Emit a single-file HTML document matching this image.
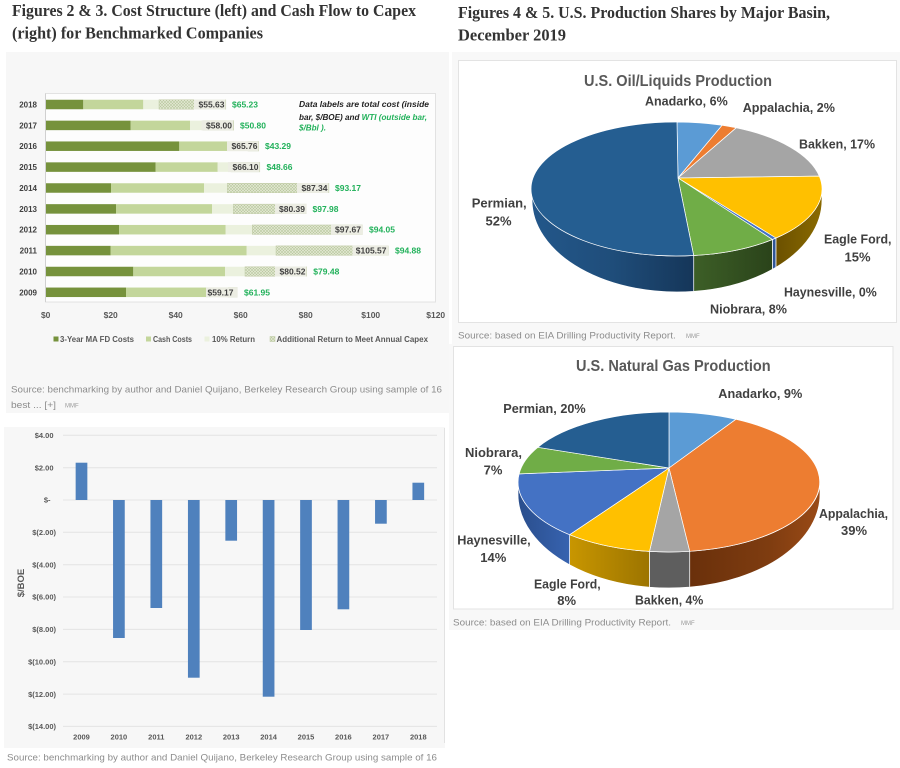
<!DOCTYPE html>
<html><head><meta charset="utf-8"><style>
html,body{margin:0;padding:0;background:#fff;width:900px;height:768px;overflow:hidden}
svg{display:block}
text{font-family:"Liberation Sans",sans-serif}
.ttl{font-family:"Liberation Serif",serif;font-weight:bold;font-size:17px;fill:#333}
.yl{font-size:8px;font-weight:bold;fill:#404040}
.xl{font-size:8.5px;font-weight:bold;fill:#595959}
.tot{font-size:8.5px;font-weight:bold;fill:#404040}
.wti{font-size:8.5px;font-weight:bold;fill:#21b15a}
.lg{font-size:8px;font-weight:bold;fill:#595959}
.src{font-size:9.5px;fill:#8c8c8c}
.mmf{font-size:6px;fill:#999}
.pl{font-size:13px;font-weight:bold;fill:#404040}
.pt{font-size:16px;font-weight:bold;fill:#595959}
.bl{font-size:7.5px;font-weight:bold;fill:#595959}
</style></head><body>
<svg width="900" height="768" viewBox="0 0 900 768" xmlns="http://www.w3.org/2000/svg">
<defs>
<pattern id="hatch" width="3" height="3" patternUnits="userSpaceOnUse">
<rect width="3" height="3" fill="#e4ead5"/>
<path d="M0,0 L3,3 M3,0 L0,3" stroke="#b9c79e" stroke-width="0.6"/>
</pattern>
<linearGradient id="gPerm" x1="0" x2="1" y1="0" y2="0"><stop offset="0" stop-color="#23578a"/><stop offset="0.5" stop-color="#1f4d7a"/><stop offset="1" stop-color="#153659"/></linearGradient>
<linearGradient id="gNio" x1="0" x2="1"><stop offset="0" stop-color="#3d5f27"/><stop offset="1" stop-color="#2a431a"/></linearGradient>
<linearGradient id="gEf" x1="0" x2="1"><stop offset="0" stop-color="#6b5000"/><stop offset="1" stop-color="#8a6a00"/></linearGradient>
<linearGradient id="gApp" x1="0" x2="1"><stop offset="0" stop-color="#6a300b"/><stop offset="0.6" stop-color="#7e3c10"/><stop offset="1" stop-color="#9a4a16"/></linearGradient>
<linearGradient id="gEf2" x1="0" x2="1"><stop offset="0" stop-color="#c89600"/><stop offset="1" stop-color="#9c7400"/></linearGradient>
<linearGradient id="gHay2" x1="0" x2="1"><stop offset="0" stop-color="#2a4e8c"/><stop offset="1" stop-color="#3763b0"/></linearGradient>
</defs>

<!-- LEFT TOP -->
<text class="ttl" x="12" y="16" textLength="404" lengthAdjust="spacingAndGlyphs">Figures 2 &amp; 3. Cost Structure (left) and Cash Flow to Capex</text>
<text class="ttl" x="12" y="38.5" textLength="251" lengthAdjust="spacingAndGlyphs">(right) for Benchmarked Companies</text>

<rect x="6" y="52" width="443" height="361" fill="#f7f7f7"/>
<rect x="45.5" y="93.5" width="390" height="208.5" fill="#fdfdfd" stroke="#e2e2e2" stroke-width="1"/>
<line x1="45.5" y1="93.5" x2="45.5" y2="302" stroke="#d0d0d0"/>

<g class="yl" text-anchor="end">
<text x="37" y="107.5">2018</text>
<text x="37" y="128.4">2017</text>
<text x="37" y="149.2">2016</text>
<text x="37" y="170.1">2015</text>
<text x="37" y="191">2014</text>
<text x="37" y="211.9">2013</text>
<text x="37" y="232.7">2012</text>
<text x="37" y="253.6">2011</text>
<text x="37" y="274.5">2010</text>
<text x="37" y="295.3">2009</text>
</g>

<g>
<rect x="46" y="99.75" width="37.3" height="9.5" fill="#76923c"/>
<rect x="83.3" y="99.75" width="60" height="9.5" fill="#c3d69b"/>
<rect x="143.3" y="99.75" width="15.7" height="9.5" fill="#ebf1de"/>
<rect x="159" y="99.75" width="66.8" height="9.5" fill="url(#hatch)" stroke="#c2cca8" stroke-width="0.5"/>
<rect x="46" y="120.65" width="84.7" height="9.5" fill="#76923c"/>
<rect x="130.7" y="120.65" width="59.3" height="9.5" fill="#c3d69b"/>
<rect x="190" y="120.65" width="13" height="9.5" fill="#ebf1de"/>
<rect x="203" y="120.65" width="30.5" height="9.5" fill="url(#hatch)" stroke="#c2cca8" stroke-width="0.5"/>
<rect x="46" y="141.45" width="133.3" height="9.5" fill="#76923c"/>
<rect x="179.3" y="141.45" width="53.7" height="9.5" fill="#c3d69b"/>
<rect x="233" y="141.45" width="15" height="9.5" fill="#ebf1de"/>
<rect x="248" y="141.45" width="10.7" height="9.5" fill="url(#hatch)" stroke="#c2cca8" stroke-width="0.5"/>
<rect x="46" y="162.35" width="109.7" height="9.5" fill="#76923c"/>
<rect x="155.7" y="162.35" width="62" height="9.5" fill="#c3d69b"/>
<rect x="217.7" y="162.35" width="13.3" height="9.5" fill="#ebf1de"/>
<rect x="231" y="162.35" width="28.8" height="9.5" fill="url(#hatch)" stroke="#c2cca8" stroke-width="0.5"/>
<rect x="46" y="183.25" width="65" height="9.5" fill="#76923c"/>
<rect x="111" y="183.25" width="93" height="9.5" fill="#c3d69b"/>
<rect x="204" y="183.25" width="23.3" height="9.5" fill="#ebf1de"/>
<rect x="227.3" y="183.25" width="101.6" height="9.5" fill="url(#hatch)" stroke="#c2cca8" stroke-width="0.5"/>
<rect x="46" y="204.15" width="70" height="9.5" fill="#76923c"/>
<rect x="116" y="204.15" width="96" height="9.5" fill="#c3d69b"/>
<rect x="212" y="204.15" width="21.3" height="9.5" fill="#ebf1de"/>
<rect x="233.3" y="204.15" width="73" height="9.5" fill="url(#hatch)" stroke="#c2cca8" stroke-width="0.5"/>
<rect x="46" y="224.95" width="73" height="9.5" fill="#76923c"/>
<rect x="119" y="224.95" width="106.7" height="9.5" fill="#c3d69b"/>
<rect x="225.7" y="224.95" width="26.6" height="9.5" fill="#ebf1de"/>
<rect x="252.3" y="224.95" width="110.1" height="9.5" fill="url(#hatch)" stroke="#c2cca8" stroke-width="0.5"/>
<rect x="46" y="245.85" width="64.7" height="9.5" fill="#76923c"/>
<rect x="110.7" y="245.85" width="136" height="9.5" fill="#c3d69b"/>
<rect x="246.7" y="245.85" width="29.3" height="9.5" fill="#ebf1de"/>
<rect x="276" y="245.85" width="112.1" height="9.5" fill="url(#hatch)" stroke="#c2cca8" stroke-width="0.5"/>
<rect x="46" y="266.75" width="87.3" height="9.5" fill="#76923c"/>
<rect x="133.3" y="266.75" width="91.7" height="9.5" fill="#c3d69b"/>
<rect x="225" y="266.75" width="20" height="9.5" fill="#ebf1de"/>
<rect x="245" y="266.75" width="61.7" height="9.5" fill="url(#hatch)" stroke="#c2cca8" stroke-width="0.5"/>
<rect x="46" y="287.55" width="80" height="9.5" fill="#76923c"/>
<rect x="126" y="287.55" width="88.3" height="9.5" fill="#c3d69b"/>
<rect x="214.3" y="287.55" width="14" height="9.5" fill="#ebf1de"/>
<rect x="228.3" y="287.55" width="9" height="9.5" fill="url(#hatch)" stroke="#c2cca8" stroke-width="0.5"/>
</g>

<g fill="#ecede3">
<rect x="194" y="99.5" width="31.5" height="10"/>
<rect x="201.5" y="120.4" width="31.5" height="10"/>
<rect x="227" y="141.2" width="31.5" height="10"/>
<rect x="228" y="162.1" width="31.5" height="10"/>
<rect x="297" y="183" width="31.5" height="10"/>
<rect x="275" y="203.9" width="31.5" height="10"/>
<rect x="331" y="224.7" width="31.5" height="10"/>
<rect x="352.5" y="245.6" width="35.5" height="10"/>
<rect x="275" y="266.5" width="31.5" height="10"/>
<rect x="206" y="287.3" width="31.5" height="10"/>
</g>
<g class="tot" text-anchor="end">
<text x="224.5" y="107.5">$55.63</text>
<text x="232" y="128.4">$58.00</text>
<text x="257.5" y="149.2">$65.76</text>
<text x="258.5" y="170.1">$66.10</text>
<text x="327.5" y="191">$87.34</text>
<text x="305" y="211.9">$80.39</text>
<text x="361" y="232.7">$97.67</text>
<text x="386.5" y="253.6">$105.57</text>
<text x="305.5" y="274.5">$80.52</text>
<text x="233.5" y="295.3">$59.17</text>
</g>
<g class="wti">
<text x="232" y="107.5">$65.23</text>
<text x="240" y="128.4">$50.80</text>
<text x="265" y="149.2">$43.29</text>
<text x="266.5" y="170.1">$48.66</text>
<text x="335" y="191">$93.17</text>
<text x="312.5" y="211.9">$97.98</text>
<text x="369" y="232.7">$94.05</text>
<text x="395" y="253.6">$94.88</text>
<text x="313.3" y="274.5">$79.48</text>
<text x="244" y="295.3">$61.95</text>
</g>

<g font-size="8" font-style="italic" font-weight="bold" fill="#222">
<text x="299" y="107" textLength="130" lengthAdjust="spacingAndGlyphs">Data labels are total cost (inside</text>
<text x="299" y="120" textLength="128" lengthAdjust="spacingAndGlyphs">bar, $/BOE) and <tspan fill="#21b15a">WTI (outside bar,</tspan></text>
<text x="299" y="130.7" fill="#21b15a" textLength="27" lengthAdjust="spacingAndGlyphs">$/Bbl ).</text>
</g>

<g class="xl" text-anchor="middle">
<text x="45.7" y="318">$0</text>
<text x="110.7" y="318">$20</text>
<text x="175.7" y="318">$40</text>
<text x="240.7" y="318">$60</text>
<text x="305.7" y="318">$80</text>
<text x="370.7" y="318">$100</text>
<text x="435.7" y="318">$120</text>
</g>

<rect x="53.5" y="336.5" width="5" height="5" fill="#76923c"/>
<text class="lg" x="60" y="342" textLength="74" lengthAdjust="spacingAndGlyphs">3-Year MA FD Costs</text>
<rect x="146" y="336.5" width="5" height="5" fill="#c3d69b"/>
<text class="lg" x="153" y="342" textLength="39" lengthAdjust="spacingAndGlyphs">Cash Costs</text>
<rect x="204.5" y="336.5" width="5" height="5" fill="#ebf1de"/>
<text class="lg" x="212" y="342" textLength="43" lengthAdjust="spacingAndGlyphs">10% Return</text>
<rect x="270" y="336.5" width="5" height="5" fill="url(#hatch)" stroke="#b9c79e" stroke-width="0.5"/>
<text class="lg" x="276.5" y="342" textLength="151.5" lengthAdjust="spacingAndGlyphs">Additional Return to Meet Annual Capex</text>

<text class="src" x="11" y="392.6" textLength="431" lengthAdjust="spacingAndGlyphs">Source: benchmarking by author and Daniel Quijano, Berkeley Research Group using sample of 16</text>
<text class="src" x="11" y="408" textLength="45" lengthAdjust="spacingAndGlyphs">best ... [+]</text>
<text class="mmf" x="65" y="407.5">MMF</text>

<!-- LEFT BOTTOM -->
<rect x="4" y="427" width="441" height="321" fill="#f7f7f7"/>
<line x1="444.5" y1="428" x2="444.5" y2="743" stroke="#e2e2e2"/>
<g stroke="#e4e4e4" stroke-width="1">
<line x1="63" x2="437" y1="435.3" y2="435.3"/>
<line x1="63" x2="437" y1="467.7" y2="467.7"/>
<line x1="63" x2="437" y1="500" y2="500"/>
<line x1="63" x2="437" y1="532.3" y2="532.3"/>
<line x1="63" x2="437" y1="564.7" y2="564.7"/>
<line x1="63" x2="437" y1="597" y2="597"/>
<line x1="63" x2="437" y1="629.4" y2="629.4"/>
<line x1="63" x2="437" y1="661.7" y2="661.7"/>
<line x1="63" x2="437" y1="694.1" y2="694.1"/>
<line x1="63" x2="437" y1="726.4" y2="726.4"/>
</g>
<g class="bl" text-anchor="end">
<text x="53.5" y="438">$4.00</text>
<text x="53.5" y="470.4">$2.00</text>
<text x="50.5" y="502.7">$-</text>
<text x="56" y="535">$(2.00)</text>
<text x="56" y="567.4">$(4.00)</text>
<text x="56" y="599.7">$(6.00)</text>
<text x="56" y="632.1">$(8.00)</text>
<text x="56" y="664.4">$(10.00)</text>
<text x="56" y="696.8">$(12.00)</text>
<text x="56" y="729.1">$(14.00)</text>
</g>
<g fill="#4f81bd">
<rect x="75.65" y="462.7" width="11.7" height="37.3"/>
<rect x="113.05" y="500" width="11.7" height="138"/>
<rect x="150.45" y="500" width="11.7" height="108"/>
<rect x="187.95" y="500" width="11.7" height="177.7"/>
<rect x="225.35" y="500" width="11.7" height="40.7"/>
<rect x="262.75" y="500" width="11.7" height="196.7"/>
<rect x="300.15" y="500" width="11.7" height="130"/>
<rect x="337.55" y="500" width="11.7" height="109.3"/>
<rect x="375.05" y="500" width="11.7" height="23.7"/>
<rect x="412.45" y="482.7" width="11.7" height="17.3"/>
</g>
<g class="bl" text-anchor="middle">
<text x="81.5" y="739.5">2009</text>
<text x="118.9" y="739.5">2010</text>
<text x="156.3" y="739.5">2011</text>
<text x="193.8" y="739.5">2012</text>
<text x="231.2" y="739.5">2013</text>
<text x="268.6" y="739.5">2014</text>
<text x="306" y="739.5">2015</text>
<text x="343.4" y="739.5">2016</text>
<text x="380.9" y="739.5">2017</text>
<text x="418.3" y="739.5">2018</text>
</g>
<text x="24" y="583" transform="rotate(-90 24 583)" text-anchor="middle" font-size="9.5" font-weight="bold" fill="#595959">$/BOE</text>
<text class="src" x="7" y="760.3" textLength="430" lengthAdjust="spacingAndGlyphs">Source: benchmarking by author and Daniel Quijano, Berkeley Research Group using sample of 16</text>

<!-- RIGHT TITLES -->
<text class="ttl" x="458" y="18" textLength="372" lengthAdjust="spacingAndGlyphs">Figures 4 &amp; 5. U.S. Production Shares by Major Basin,</text>
<text class="ttl" x="458" y="40.5" textLength="108" lengthAdjust="spacingAndGlyphs">December 2019</text>

<!-- PIE 1 -->
<rect x="452" y="52" width="448" height="292" fill="#f8f8f8"/>
<rect x="458.5" y="60.5" width="438" height="262" fill="#fff" stroke="#e3e3e3"/>
<text class="pt" x="584" y="86" textLength="188" lengthAdjust="spacingAndGlyphs">U.S. Oil/Liquids Production</text>
<g stroke="#fff" stroke-width="0.7" stroke-linejoin="round">
<path d="M822,189 A145,67 0 0,1 775.9,238 L775.9,267.3 A145,92 0 0,0 822,200 Z" fill="url(#gEf)"/>
<path d="M775.9,238 A145,67 0 0,1 772.4,239.5 L772.4,269.3 A145,92 0 0,0 775.9,267.3 Z" fill="#2f5597"/>
<path d="M772.4,239.5 A145,67 0 0,1 693.7,255.5 L693.7,291.4 A145,92 0 0,0 772.4,269.3 Z" fill="url(#gNio)"/>
<path d="M693.7,255.5 A145,67 0 0,1 532,189 L532,200 A145,92 0 0,0 693.7,291.4 Z" fill="url(#gPerm)"/>
<path d="M678,178 L677,122 A145,67 0 0,1 722.1,125.3 Z" fill="#5b9bd5"/>
<path d="M678,178 L722.1,125.3 A145,67 0 0,1 736.2,127.8 Z" fill="#ed7d31"/>
<path d="M678,178 L736.2,127.8 A145,67 0 0,1 819.3,176.1 Z" fill="#a5a5a5"/>
<path d="M678,178 L819.3,176.1 A145,67 0 0,1 775.9,238 Z" fill="#ffc000"/>
<path d="M678,178 L775.9,238 A145,67 0 0,1 772.4,239.5 Z" fill="#4472c4"/>
<path d="M678,178 L772.4,239.5 A145,67 0 0,1 693.7,255.5 Z" fill="#70ad47"/>
<path d="M678,178 L693.7,255.5 A145,67 0 1,1 677,122 Z" fill="#255e91"/>
</g>
<text class="pl" x="645" y="105.5" textLength="82.7" lengthAdjust="spacingAndGlyphs">Anadarko, 6%</text>
<text class="pl" x="742.7" y="112.2" textLength="92.3" lengthAdjust="spacingAndGlyphs">Appalachia, 2%</text>
<text class="pl" x="799" y="148.5" textLength="76" lengthAdjust="spacingAndGlyphs">Bakken, 17%</text>
<text class="pl" x="471.7" y="207.5" textLength="55" lengthAdjust="spacingAndGlyphs">Permian,</text>
<text class="pl" x="498.5" y="225.5" text-anchor="middle">52%</text>
<text class="pl" x="824" y="243.5" textLength="67.5" lengthAdjust="spacingAndGlyphs">Eagle Ford,</text>
<text class="pl" x="857.5" y="261.5" text-anchor="middle">15%</text>
<text class="pl" x="784" y="296.5" textLength="92.7" lengthAdjust="spacingAndGlyphs">Haynesville, 0%</text>
<text class="pl" x="710" y="313.5" textLength="77" lengthAdjust="spacingAndGlyphs">Niobrara, 8%</text>
<text class="src" x="458" y="338.3" textLength="217.7" lengthAdjust="spacingAndGlyphs">Source: based on EIA Drilling Productivity Report.</text>
<text class="mmf" x="686" y="338">MMF</text>

<!-- PIE 2 -->
<rect x="449" y="344" width="451" height="286" fill="#f8f8f8"/>
<rect x="453.5" y="346.5" width="439.5" height="262.5" fill="#fff" stroke="#e3e3e3"/>
<text class="pt" x="576" y="371" textLength="194.7" lengthAdjust="spacingAndGlyphs">U.S. Natural Gas Production</text>
<g stroke="#fff" stroke-width="0.7" stroke-linejoin="round">
<path d="M820,482 A151,70 0 0,1 689.7,551.3 L689.7,587.1 A151,94 0 0,0 820,494 Z" fill="url(#gApp)"/>
<path d="M689.7,551.3 A151,70 0 0,1 649.5,551.4 L649.5,587.2 A151,94 0 0,0 689.7,587.1 Z" fill="#5e5e5e"/>
<path d="M649.5,551.4 A151,70 0 0,1 569.6,534.7 L569.6,564.8 A151,94 0 0,0 649.5,587.2 Z" fill="url(#gEf2)"/>
<path d="M569.6,534.7 A151,70 0 0,1 518,482 L518,494 A151,94 0 0,0 569.6,564.8 Z" fill="url(#gHay2)"/>
<path d="M669,468 L669,412 A151,70 0 0,1 735.9,419.3 Z" fill="#5b9bd5"/>
<path d="M669,468 L735.9,419.3 A151,70 0 0,1 689.7,551.3 Z" fill="#ed7d31"/>
<path d="M669,468 L689.7,551.3 A151,70 0 0,1 649.5,551.4 Z" fill="#a5a5a5"/>
<path d="M669,468 L649.5,551.4 A151,70 0 0,1 569.6,534.7 Z" fill="#ffc000"/>
<path d="M669,468 L569.6,534.7 A151,70 0 0,1 519.1,473.9 Z" fill="#4472c4"/>
<path d="M669,468 L519.1,473.9 A151,70 0 0,1 537.8,447.3 Z" fill="#70ad47"/>
<path d="M669,468 L537.8,447.3 A151,70 0 0,1 669,412 Z" fill="#255e91"/>
</g>
<text class="pl" x="718.3" y="397.8" textLength="84" lengthAdjust="spacingAndGlyphs">Anadarko, 9%</text>
<text class="pl" x="503.3" y="412.8" textLength="82.4" lengthAdjust="spacingAndGlyphs">Permian, 20%</text>
<text class="pl" x="465" y="456.8" textLength="57" lengthAdjust="spacingAndGlyphs">Niobrara,</text>
<text class="pl" x="493" y="474.5" text-anchor="middle">7%</text>
<text class="pl" x="819" y="517.8" textLength="69" lengthAdjust="spacingAndGlyphs">Appalachia,</text>
<text class="pl" x="854" y="535.2" text-anchor="middle">39%</text>
<text class="pl" x="457.3" y="544.5" textLength="73.4" lengthAdjust="spacingAndGlyphs">Haynesville,</text>
<text class="pl" x="493.3" y="561.8" text-anchor="middle">14%</text>
<text class="pl" x="534" y="588.5" textLength="66.7" lengthAdjust="spacingAndGlyphs">Eagle Ford,</text>
<text class="pl" x="566.7" y="605.2" text-anchor="middle">8%</text>
<text class="pl" x="635" y="604.5" textLength="68.3" lengthAdjust="spacingAndGlyphs">Bakken, 4%</text>
<text class="src" x="453" y="625.3" textLength="218" lengthAdjust="spacingAndGlyphs">Source: based on EIA Drilling Productivity Report.</text>
<text class="mmf" x="681" y="625">MMF</text>
</svg>
</body></html>
